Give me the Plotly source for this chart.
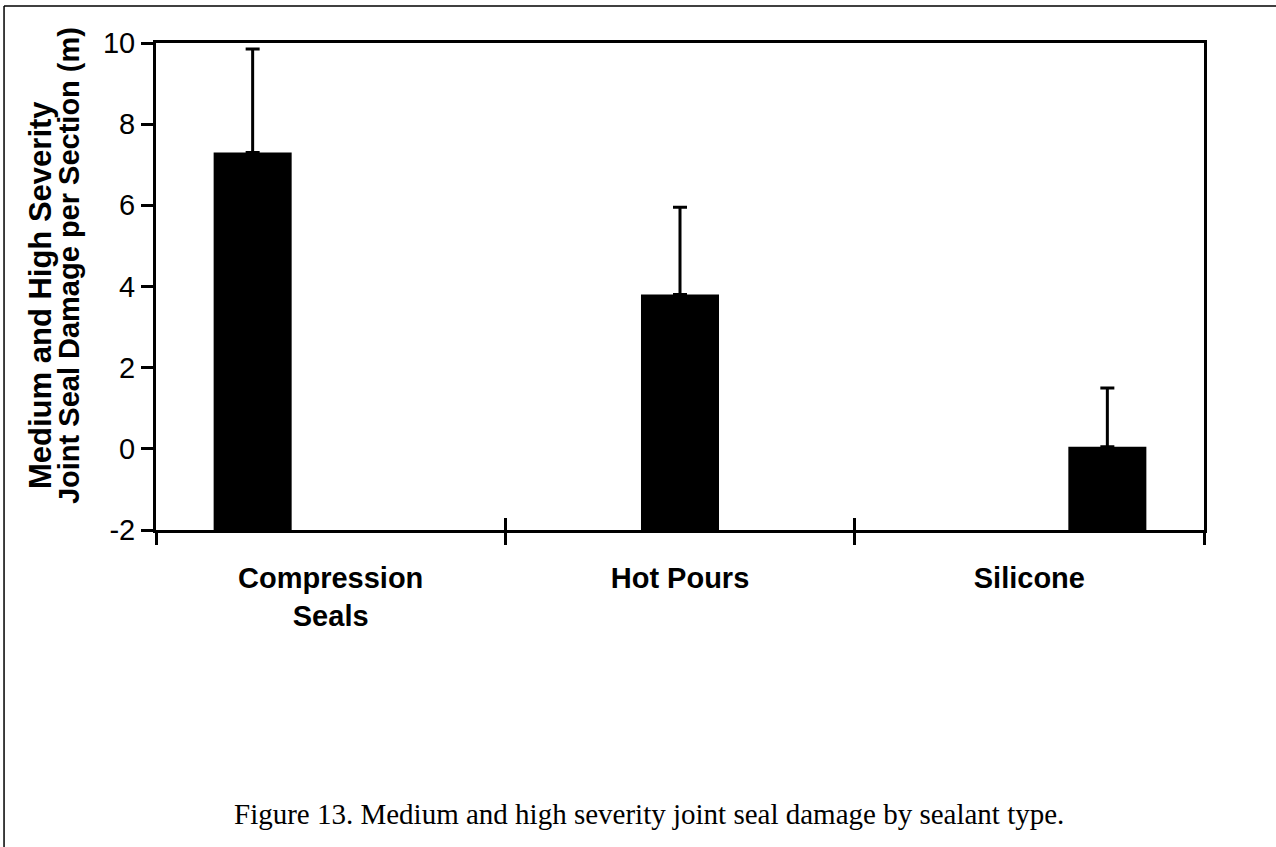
"""Joint seal damage by sealant type - bar chart with upper error bars."""

import plotly.graph_objects as go

# data
categories = ["Compression<br>Seals", "Hot Pours", "Silicone"]
series_names = ["Compression Seals", "Hot Pours", "Silicone"]
damage_mean = [7.3, 3.8, 0.05]
damage_err = [2.55, 2.15, 1.45]
axis_floor = -2
y_ticks = [-2, 0, 2, 4, 6, 8, 10]

SANS = "Liberation Sans, Arial, sans-serif"
SERIF = "Liberation Serif, Times New Roman, serif"

fig = go.Figure()
for i, name in enumerate(series_names):
    # one series per sealant; each only has a value in its own category,
    # so the bars sit left / centre / right of their slot like the original
    ys = [None] * len(categories)
    errs = [None] * len(categories)
    ys[i] = damage_mean[i] - axis_floor
    errs[i] = damage_err[i]
    fig.add_trace(go.Bar(
        x=categories,
        y=ys,
        base=axis_floor,  # bars grow from the axis floor (-2)
        name=name,
        offsetgroup=str(i),
        marker=dict(color="black", line=dict(width=0)),
        error_y=dict(
            type="data", symmetric=False,
            array=errs, arrayminus=[0] * len(categories),
            color="black", thickness=3, width=7,
        ),
        showlegend=False,
    ))

# invisible helper axis so the category ticks cross the baseline
fig.add_trace(go.Scatter(x=[None], y=[None], xaxis="x2", showlegend=False))

fig.update_layout(
    width=1276, height=847,
    margin=dict(l=156, r=72, t=43, b=317),
    paper_bgcolor="white", plot_bgcolor="white",
    barmode="group", bargap=0.33, bargroupgap=0,
    font=dict(family=SANS, color="black", size=29),
    xaxis=dict(
        type="category", categoryarray=categories,
        tickson="boundaries", ticks="outside", ticklen=12, tickwidth=3,
        tickcolor="black", showline=True, linewidth=3, linecolor="black",
        mirror=True, showgrid=False, ticklabelstandoff=20,
        tickfont=dict(family=SANS, size=29, weight="bold"),
    ),
    xaxis2=dict(
        overlaying="x", anchor="y", range=[-0.5, 2.5],
        tickvals=[-0.5, 0.5, 1.5, 2.5], ticks="inside", ticklen=12,
        tickwidth=3, tickcolor="black", showticklabels=False,
        showgrid=False, zeroline=False, showline=False,
    ),
    yaxis=dict(
        range=[axis_floor, 10], tickvals=y_ticks,
        ticktext=[str(v) for v in y_ticks],
        ticks="outside", ticklen=12, tickwidth=3, tickcolor="black",
        showline=True, linewidth=3, linecolor="black", mirror=True,
        showgrid=False, zeroline=False,
        tickfont=dict(family=SANS, size=29),
    ),
)

# two-line y title, set tight like the scan
fig.add_annotation(
    text="<b>Medium and High Severity</b>", textangle=-90,
    xref="paper", yref="paper", x=0, y=0.4825, xshift=-116,
    xanchor="center", yanchor="middle", showarrow=False,
    font=dict(family=SANS, size=31),
)
fig.add_annotation(
    text="<b>Joint Seal Damage per Section (m)</b>", textangle=-90,
    xref="paper", yref="paper", x=0, y=0.542, xshift=-87,
    xanchor="center", yanchor="middle", showarrow=False,
    font=dict(family=SANS, size=29),
)

# figure caption
fig.add_annotation(
    text="Figure 13. Medium and high severity joint seal damage by sealant type.",
    xref="paper", yref="paper", x=(649 - 156) / 1048, y=(530 - 814) / 487,
    xanchor="center", yanchor="middle", showarrow=False,
    font=dict(family=SERIF, size=29),
)

# page frame lines from the scanned report page
fig.add_shape(type="line", xref="paper", yref="paper",
              x0=-0.145, x1=-0.145, y0=1.076, y1=-0.66,
              line=dict(color="black", width=1.5))
fig.add_shape(type="line", xref="paper", yref="paper",
              x0=-0.145, x1=1.07, y0=1.076, y1=1.076,
              line=dict(color="black", width=1.5))

# drop the browser's default body margin so the figure sits at (0, 0)
fig.write_html(
    "out.html",
    config={"displayModeBar": False},
    post_script="document.body.style.margin='0';",
)
